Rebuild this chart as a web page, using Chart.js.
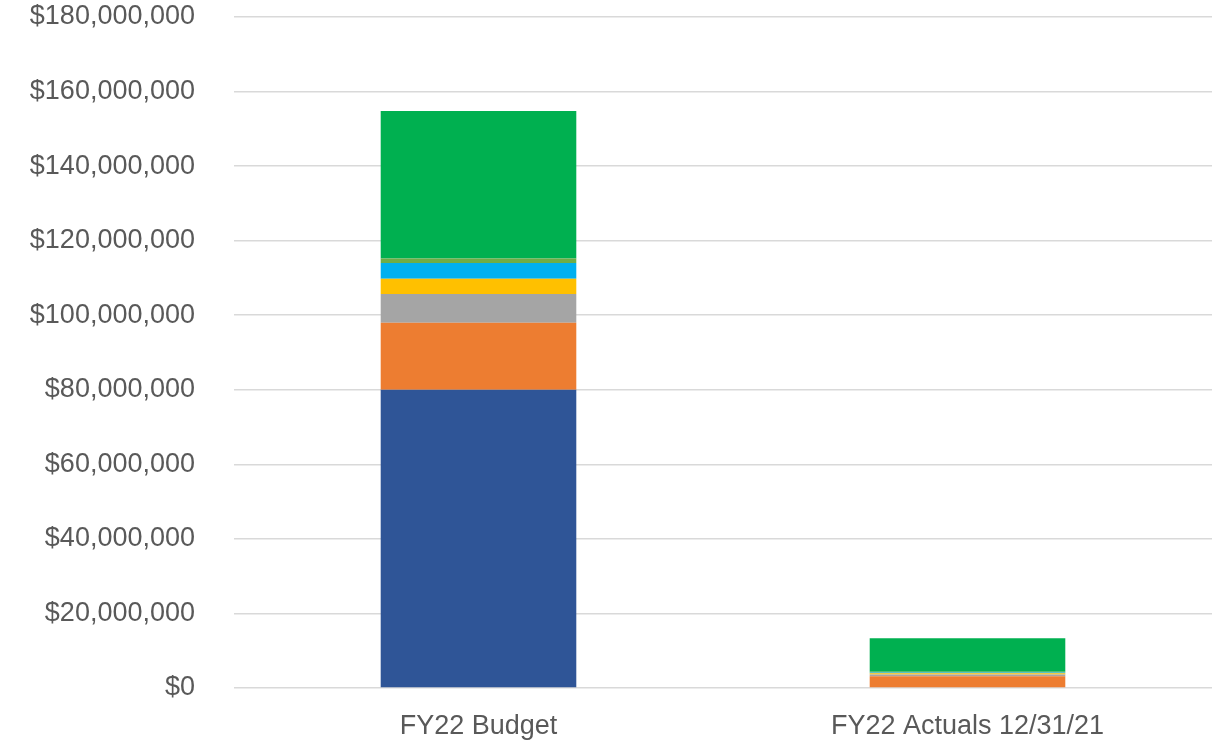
<!DOCTYPE html>
<html>
<head>
<meta charset="utf-8">
<script src="https://cdn.jsdelivr.net/npm/chart.js@4/dist/chart.umd.min.js"></script>
<style>
  html, body { margin: 0; padding: 0; background: #fff; }
  #wrap { width: 1220px; height: 744px; position: relative; }
</style>
</head>
<body>
<div id="wrap"><canvas id="budgetChart"></canvas></div>
<script>
// Categories and stacked series (values in dollars), bottom to top
const categories = ['FY22 Budget', 'FY22 Actuals 12/31/21'];
const series1 = [80000000, 0];
const series2 = [18000000, 3150000];
const series3 = [7700000, 500000];
const series4 = [4100000, 300000];
const series5 = [4200000, 200000];
const series6 = [1200000, 200000];
const series7 = [39600000, 9000000];
const yTicks = [0, 20000000, 40000000, 60000000, 80000000, 100000000, 120000000, 140000000, 160000000, 180000000];

const seriesColors = ['#2F5597', '#ED7D31', '#A5A5A5', '#FFC000', '#00B0F0', '#70AD47', '#00B050'];
const allSeries = [series1, series2, series3, series4, series5, series6, series7];

const font = { family: "'Liberation Sans', Arial, sans-serif", size: 27 };

const ctx = document.getElementById('budgetChart').getContext('2d');
new Chart(ctx, {
    type: 'bar',
    data: {
        labels: categories,
        datasets: allSeries.map((vals, i) => ({
            label: 'Series ' + (i + 1),
            data: vals,
            backgroundColor: seriesColors[i],
            borderWidth: 0,
            barPercentage: 0.4,
            categoryPercentage: 1
        }))
    },
    options: {
        responsive: true,
        maintainAspectRatio: false,
        animation: false,
        layout: { padding: { top: 17, right: 8, bottom: 0, left: 0 } },
        plugins: {
            legend: { display: false },
            tooltip: { enabled: false }
        },
        scales: {
            x: {
                stacked: true,
                afterFit: (scale) => { scale.height = 56; scale.paddingLeft = 0; scale.paddingRight = 0; },
                grid: { display: false, drawTicks: false },
                border: { display: false },
                ticks: { color: '#595959', font: font, padding: 22 }
            },
            y: {
                stacked: true,
                min: 0,
                max: 180000000,
                afterBuildTicks: (scale) => { scale.ticks = yTicks.map(v => ({ value: v })); },
                afterFit: (scale) => { scale.width = 234; scale.paddingTop = 0; scale.paddingBottom = 0; },
                grid: { color: '#D9D9D9', lineWidth: 1.5, drawTicks: false },
                border: { display: false },
                ticks: {
                    color: '#595959',
                    font: font,
                    padding: 39,
                    callback: (v) => '$' + Number(v).toLocaleString('en-US')
                }
            }
        }
    }
});
</script>
</body>
</html>
